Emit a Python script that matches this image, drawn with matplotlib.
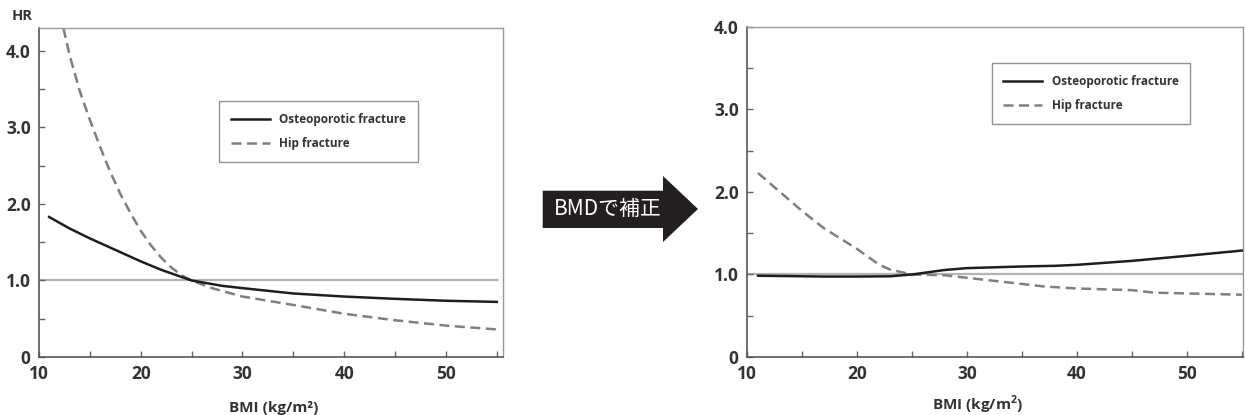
import matplotlib
matplotlib.use("Agg")
import matplotlib.pyplot as plt
from matplotlib.patches import Polygon
from matplotlib.ticker import MultipleLocator

plt.rcParams['font.family'] = ['Open Sans', 'DejaVu Sans']
plt.rcParams['mathtext.fontset'] = 'custom'
plt.rcParams['mathtext.bf'] = 'Open Sans:bold'

# 左: BMI と HR (未補正)
bmi_osteo_raw = [11, 13, 15, 17, 20, 22, 25, 28, 30, 35, 40, 45, 50, 55]
hr_osteo_raw = [1.83, 1.68, 1.55, 1.43, 1.25, 1.14, 1.0, 0.93, 0.90, 0.83, 0.79, 0.76, 0.735, 0.72]

bmi_hip_raw = [12.4, 13, 14, 15, 16, 17, 18, 19, 20, 21, 22, 23, 24, 25, 27, 30, 35, 40, 45, 50, 55]
hr_hip_raw = [4.3, 3.95, 3.48, 3.1, 2.75, 2.42, 2.13, 1.88, 1.65, 1.46, 1.30, 1.17, 1.07, 1.0,
              0.9, 0.79, 0.68, 0.565, 0.48, 0.41, 0.36]

# 右: BMD で補正後
bmi_osteo_adj = [11, 14, 17, 20, 23, 25, 28, 30, 35, 38, 40, 45, 50, 55]
hr_osteo_adj = [0.985, 0.98, 0.975, 0.975, 0.978, 1.0, 1.055, 1.077, 1.097, 1.105, 1.117, 1.165, 1.226, 1.29]

bmi_hip_adj = [11, 13, 15, 17, 20, 22, 23, 25, 28, 30, 33, 37, 40, 45, 47, 50, 55]
hr_hip_adj = [2.23, 2.0, 1.77, 1.56, 1.31, 1.12, 1.06, 1.0, 0.99, 0.96, 0.915, 0.855, 0.83, 0.81,
              0.78, 0.77, 0.755]

label_osteo = "Osteoporotic fracture"
label_hip = "Hip fracture"

text_col = '#333333'

fig = plt.figure(figsize=(12.45, 4.15), dpi=100)
fig.patch.set_facecolor('white')

ax1 = fig.add_axes([0.0313, 0.1398, 0.3727, 0.7927])
ax2 = fig.add_axes([0.6000, 0.1398, 0.3984, 0.7952])


def style_axes(ax, ymax, xmax):
    ax.set_xlim(10, xmax)
    ax.set_ylim(0, ymax)
    ax.xaxis.set_minor_locator(MultipleLocator(5))
    ax.yaxis.set_minor_locator(MultipleLocator(0.5))
    ax.set_xticks([10, 20, 30, 40, 50])
    ax.set_yticks([0, 1, 2, 3, 4])
    ax.set_yticklabels(['0', '1.0', '2.0', '3.0', '4.0'])
    ax.tick_params(which='both', direction='in', length=4, width=1, color='#666666',
                   labelsize=12.5, labelcolor=text_col)
    ax.tick_params(axis='x', pad=6)
    ax.tick_params(axis='y', pad=6)
    for lab in ax.get_xticklabels() + ax.get_yticklabels():
        lab.set_fontweight('bold')
    for side in ['left', 'bottom']:
        ax.spines[side].set_color('#555555')
        ax.spines[side].set_linewidth(1.2)
    for side in ['top', 'right']:
        ax.spines[side].set_color('#999999')
        ax.spines[side].set_linewidth(1.0)


def draw_panel(ax, bx_o, hr_o, bx_h, hr_h):
    ax.plot([10, 55], [1, 1], color='#b4b4b4', lw=1.6, zorder=1)
    ax.plot(bx_o, hr_o, color='#1e1e1e', lw=1.8, label=label_osteo, zorder=3)
    ax.plot(bx_h, hr_h, color='#7f7f7f', lw=1.8, dashes=(4, 2.2), label=label_hip, zorder=2)


draw_panel(ax1, bmi_osteo_raw, hr_osteo_raw, bmi_hip_raw, hr_hip_raw)
draw_panel(ax2, bmi_osteo_adj, hr_osteo_adj, bmi_hip_adj, hr_hip_adj)
style_axes(ax1, 4.3, 55.6)
style_axes(ax2, 4.0, 55.1)

for ax, anchor in [(ax1, (0.388, 0.778)), (ax2, (0.493, 0.891))]:
    leg = ax.legend(loc='upper left', bbox_to_anchor=anchor, frameon=True, fancybox=False,
                    prop={'size': 8.5, 'weight': 'bold'}, handlelength=3.3, handletextpad=0.8,
                    borderpad=1.0, labelspacing=0.95, borderaxespad=0)
    leg.get_frame().set_edgecolor('#777777')
    leg.get_frame().set_linewidth(1.0)
    for t in leg.get_texts():
        t.set_color(text_col)

ax1.set_xlabel("BMI (kg/m²)", fontsize=11, fontweight='bold', color=text_col, va='center')
ax1.xaxis.set_label_coords(0.506, -0.155)
ax2.set_xlabel("BMI (kg/m$^\\mathbf{2}$)", fontsize=11, fontweight='bold', color=text_col, va='center')
ax2.xaxis.set_label_coords(0.465, -0.145)

fig.text(12 / 1245, 1 - 16 / 415, "HR", fontsize=10.5, fontweight='bold', color=text_col,
         ha='left', va='center')

# 中央の矢印
arrow_px = [(542.7, 190.7), (663, 190.7), (663, 176), (698, 209), (663, 242), (663, 228), (542.7, 228)]
arrow_fig = [(x / 1245, 1 - y / 415) for x, y in arrow_px]
fig.patches.append(Polygon(arrow_fig, closed=True, transform=fig.transFigure,
                           facecolor='#231f20', edgecolor='none'))
fig.text(608 / 1245, 1 - 209 / 415, "BMDで補正", fontsize=15, color='white',
         ha='center', va='center', family=['Noto Sans CJK JP', 'DejaVu Sans'])

fig.savefig('out.png', dpi=100, facecolor='white')
